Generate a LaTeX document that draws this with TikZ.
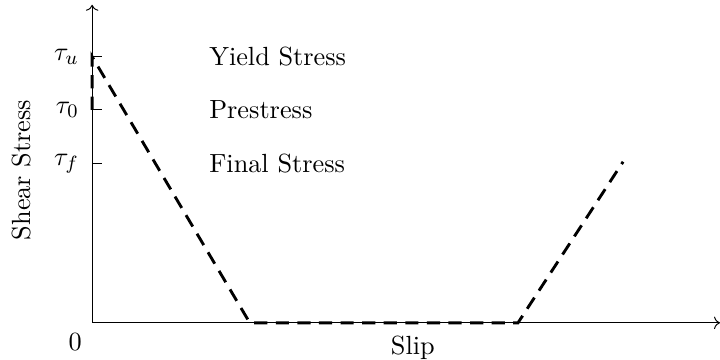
\documentclass[tikz,border=0pt,11pt]{standalone}
\usepackage{tikz}
\usetikzlibrary{arrows.meta, positioning, calc}

\begin{document}
\begin{tikzpicture}[
  axis/.style={->, thin},
  tick/.style={thin},
  law/.style={line width=1.2pt, dash pattern=on 5.5pt off 3.5pt},
  taulbl/.style={anchor=east, inner sep=2pt},
  txt/.style={anchor=west, inner sep=0pt}
]
  \useasboundingbox (-1.35,-0.54) rectangle (9.2,4.73);

  %% Axes
  \coordinate (O) at (0,0);
  \coordinate (xend) at (9.2,0);
  \coordinate (yend) at (0,4.66);
  \draw[axis] (O) -- (xend);
  \draw[axis] (O) -- (yend);

  %% Stress levels
  \coordinate (tu) at (0,3.9);
  \coordinate (t0) at (0,3.12);
  \coordinate (tf) at (0,2.33);
  \foreach \c/\t in {tu/u, t0/0, tf/f}{
    \draw[tick] (\c) -- ++(0.15,0);
    \node[taulbl] (lbl\c) at ($(\c)+(-0.12,0)$) {$\tau_\t$};
  }

  \node[txt] (yield) at (1.71,3.9) {Yield Stress};
  \node[txt] (pre) at (1.71,3.12) {Prestress};
  \node[txt] (final) at (1.71,2.33) {Final Stress};

  %% Friction law
  \coordinate (a) at (2.31,0);
  \coordinate (b) at (6.24,0);
  \coordinate (c) at (7.78,2.36);
  \draw[law] (t0) -- (tu) -- (a) -- (b) -- (c);

  %% Axis labels
  \node (zero) at (-0.25,-0.28) {0};
  \node (slip) at (4.7,-0.37) {Slip};
  \node[rotate=90] (shear) at (-1.03,2.24) {Shear Stress};

\end{tikzpicture}
\end{document}
